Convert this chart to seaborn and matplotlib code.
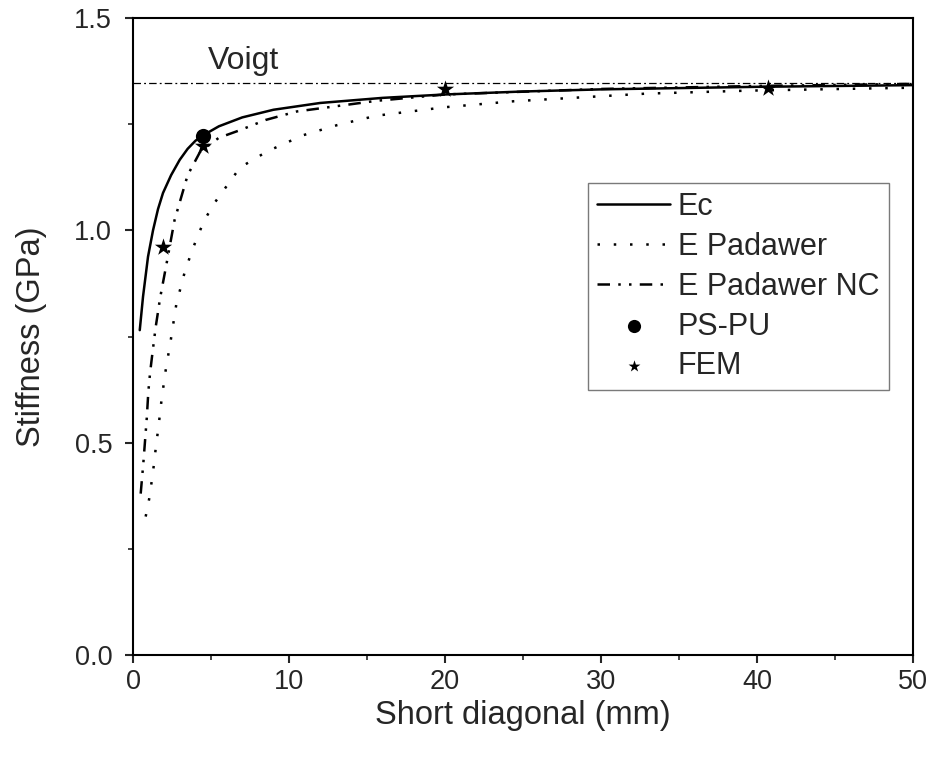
import numpy as np
import pandas as pd
import matplotlib
matplotlib.use('Agg')
import matplotlib.pyplot as plt
import seaborn as sns

# Curves (x = short diagonal in mm, y = stiffness in GPa)
ec_x = [0.43, 0.64, 0.96, 1.28, 1.6, 1.92, 2.44, 2.99, 3.5, 4.0, 4.5, 5.5, 7.0, 9.0, 12, 16, 20, 25, 30, 40, 50]
ec_y = [0.765, 0.844, 0.938, 1.0, 1.05, 1.088, 1.13, 1.166, 1.192, 1.211, 1.224, 1.245, 1.266, 1.284,
        1.30, 1.312, 1.32, 1.327, 1.332, 1.338, 1.342]

padawer_x = [0.81, 1.03, 1.2, 1.35, 1.47, 1.62, 1.84, 2.09, 2.42, 2.6, 2.77, 3.09, 3.3, 3.74, 4.17,
             4.59, 5.23, 6.86, 8.6, 10.9, 13.1, 15.6, 20, 24.4, 32.9, 39.4, 50]
padawer_y = [0.326, 0.367, 0.41, 0.452, 0.492, 0.534, 0.605, 0.67, 0.742, 0.785, 0.825, 0.871, 0.9,
             0.948, 0.989, 1.025, 1.065, 1.148, 1.186, 1.224, 1.248, 1.27, 1.29, 1.304, 1.322, 1.329, 1.336]

padawer_nc_x = [0.49, 0.66, 0.88, 0.98, 1.09, 1.24, 1.45, 1.6, 1.73, 2.13, 2.66, 3.5, 4.3, 5.5,
                6.86, 8.5, 10.5, 15.6, 20, 30, 40, 50]
padawer_nc_y = [0.38, 0.452, 0.558, 0.62, 0.664, 0.71, 0.772, 0.808, 0.84, 0.918, 1.024, 1.13,
                1.185, 1.218, 1.236, 1.26, 1.28, 1.305, 1.32, 1.333, 1.34, 1.345]

pspu_x = [4.5]
pspu_y = [1.222]

fem_x = [1.94, 4.5, 20.0, 40.7]
fem_y = [0.961, 1.198, 1.333, 1.336]

voigt = 1.347

sns.set_style('ticks')
plt.rcParams['font.family'] = ['Liberation Sans', 'DejaVu Sans']

fig = plt.figure(figsize=(9.33, 7.61), dpi=100)
ax = fig.add_axes([0.1426, 0.1393, 0.836, 0.837])

lw = 1.8
sns.lineplot(x=ec_x, y=ec_y, ax=ax, color='black', linewidth=lw, label='Ec')
sns.lineplot(x=padawer_x, y=padawer_y, ax=ax, color='black', linewidth=lw,
             linestyle=(0, (1, 5.5)), label='E Padawer')
sns.lineplot(x=padawer_nc_x, y=padawer_nc_y, ax=ax, color='black', linewidth=lw,
             linestyle=(0, (5, 3.3, 1, 3.3, 1, 3.3)), label='E Padawer NC')
sns.scatterplot(x=pspu_x, y=pspu_y, ax=ax, color='black', marker='o', s=120,
                edgecolor='black', linewidth=0, label='PS-PU', zorder=5)
sns.scatterplot(x=fem_x, y=fem_y, ax=ax, color='black', marker='*', s=170,
                edgecolor='black', linewidth=0, label='FEM', zorder=5)

# Voigt bound
ax.axhline(voigt, color='black', linewidth=0.9, linestyle=(0, (6, 2.5, 1.5, 2.5)))
ax.text(4.8, 1.398, 'Voigt', fontsize=23, ha='left', va='center')

ax.set_xlim(0, 50)
ax.set_ylim(0, 1.5)
ax.set_xticks([0, 10, 20, 30, 40, 50])
ax.set_xticks(np.arange(0, 51, 5), minor=True)
ax.set_yticks([0.0, 0.5, 1.0, 1.5])
ax.set_yticks(np.arange(0, 1.51, 0.25), minor=True)
ax.set_yticklabels(['0.0', '0.5', '1.0', '1.5'])
ax.tick_params(axis='both', which='major', direction='out', length=6, width=1.5,
               labelsize=19.5, top=False, right=False)
ax.tick_params(axis='x', which='major', pad=4)
ax.tick_params(axis='y', which='major', pad=9)
ax.tick_params(axis='both', which='minor', direction='out', length=3.5, width=1.2,
               top=False, right=False)
for sp in ax.spines.values():
    sp.set_visible(True)
    sp.set_linewidth(1.5)
    sp.set_color('black')

ax.set_xlabel('Short diagonal (mm)', fontsize=23.5, labelpad=4)
ax.set_ylabel('Stiffness (GPa)', fontsize=23.5, labelpad=20)

leg = ax.legend(loc='upper left', bbox_to_anchor=(0.583, 0.741), borderaxespad=0,
                fontsize=22, frameon=True, fancybox=False, handlelength=2.4,
                handletextpad=0.25, labelspacing=0.32, borderpad=0.3)
leg.get_frame().set_edgecolor('0.35')
leg.get_frame().set_linewidth(1.0)
leg.legend_handles[3].set_sizes([90])
leg.legend_handles[4].set_sizes([80])

fig.savefig('out.png', dpi=100)
